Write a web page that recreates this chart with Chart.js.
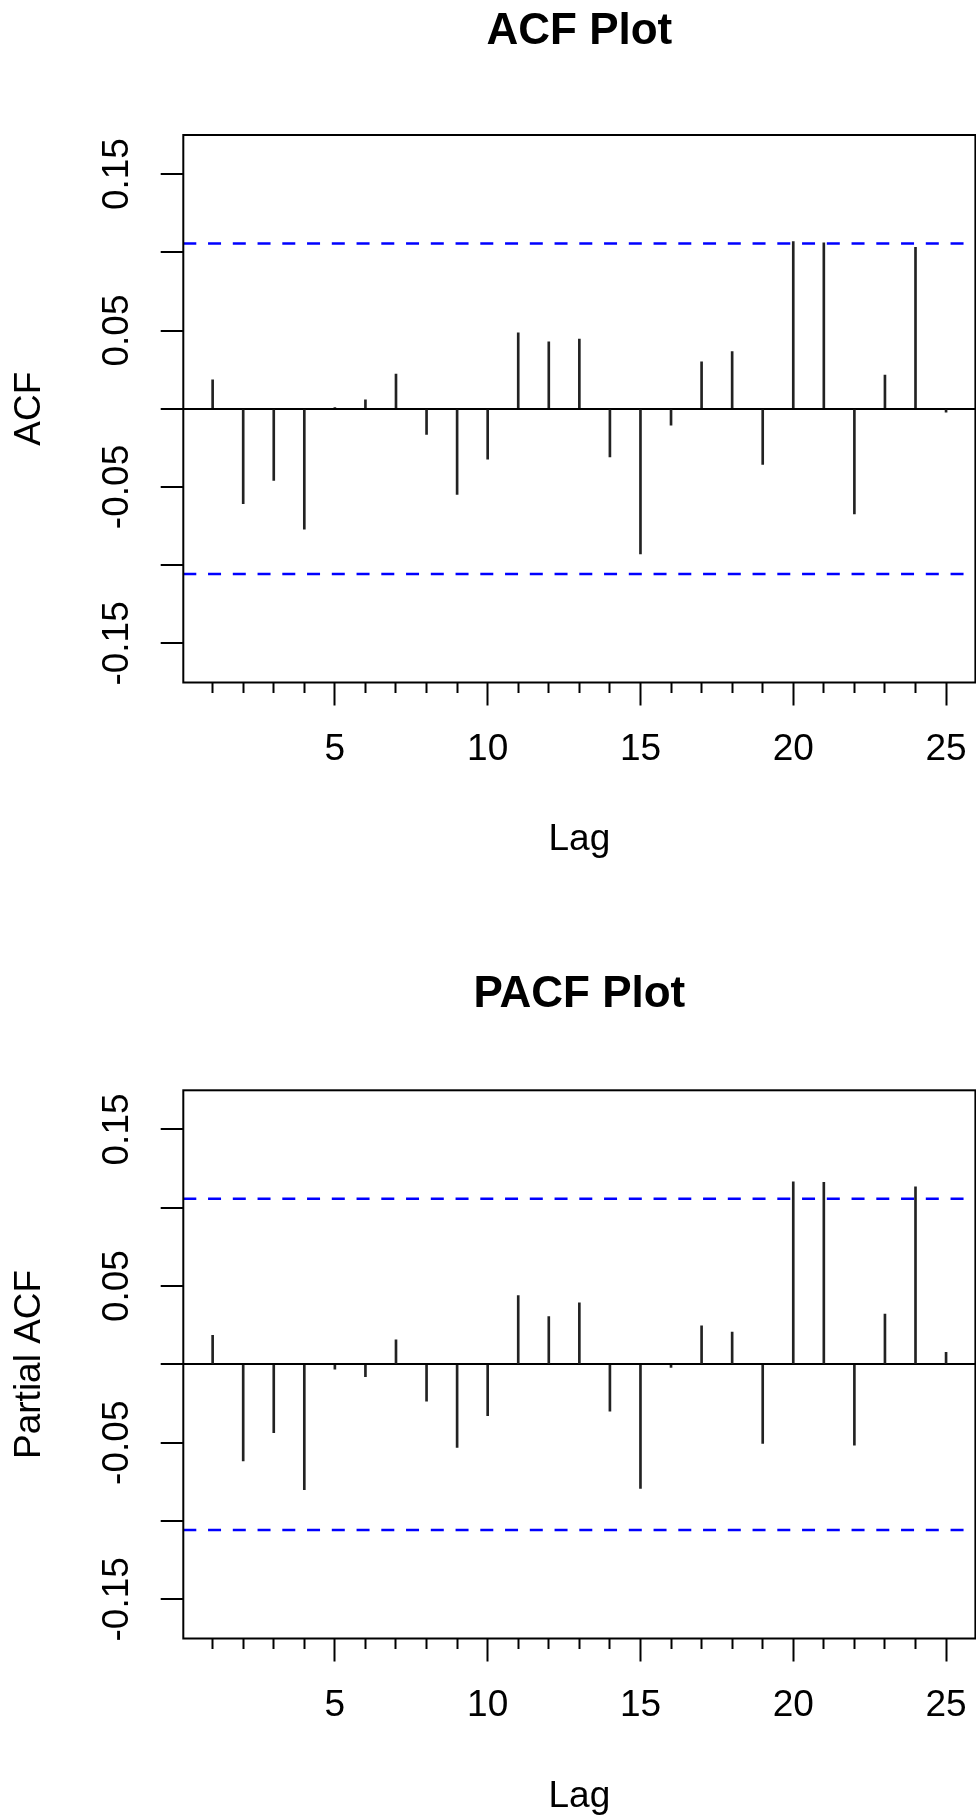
<!DOCTYPE html>
<html lang="en">
<head>
  <meta charset="UTF-8">
  <title>ACF / PACF Plot</title>
  <script src="https://cdn.jsdelivr.net/npm/chart.js@4/dist/chart.umd.min.js"></script>
  <style>
    html, body { margin: 0; padding: 0; background: #fff; }
    body   { width: 976px; height: 1818px; position: relative; overflow: hidden; }
    canvas { position: absolute; left: 0; }
    #acfChart  { top: 0; }
    #pacfChart { top: 909px; }
  </style>
</head>
<body>
  <canvas id="acfChart" width="976" height="909"></canvas>
  <canvas id="pacfChart" width="976" height="909"></canvas>

  <script>
    // ── Data ───────────────────────────────────────────────────────────────
    const lags = [1, 2, 3, 4, 5, 6, 7, 8, 9, 10, 11, 12, 13, 14, 15, 16, 17, 18, 19, 20, 21, 22, 23, 24, 25];
    const acfValues = [0.0185, -0.0606, -0.0458, -0.0770, 0.0008, 0.0057, 0.0222, -0.0164, -0.0547, -0.0323,
                       0.0486, 0.0428, 0.0445, -0.0308, -0.0928, -0.0105, 0.0300, 0.0365, -0.0356, 0.1068,
                       0.1060, -0.0672, 0.0216, 0.1032, -0.0022];
    const pacfValues = [0.0185, -0.0617, -0.0436, -0.0800, -0.0030, -0.0078, 0.0157, -0.0235, -0.0530, -0.0327,
                        0.0440, 0.0306, 0.0393, -0.0298, -0.0792, -0.0020, 0.0246, 0.0206, -0.0505, 0.1166,
                        0.1163, -0.0515, 0.0321, 0.1134, 0.0077];
    const ciBound = 0.1057;                 // blue dashed significance bounds (±)
    const lagRange = [0.04, 25.96];         // x limits
    const yRange = [-0.175, 0.175];         // y limits
    const labeledLags = [5, 10, 15, 20, 25];
    const yTickValues = [-0.15, -0.10, -0.05, 0, 0.05, 0.10, 0.15];
    const yTickLabels = ['-0.15', '', '-0.05', '', '0.05', '', '0.15'];

    // ── Styling ────────────────────────────────────────────────────────────
    Chart.defaults.font.family = "'Liberation Sans', Arial, Helvetica, sans-serif";
    Chart.defaults.color = '#000';

    // box around the plot region, R style
    const frame = {
      id: 'frame',
      afterDraw(chart) {
        const { ctx, chartArea: a } = chart;
        ctx.save();
        ctx.strokeStyle = '#000';
        ctx.lineWidth = 2;
        ctx.strokeRect(a.left, a.top, a.right - a.left, a.bottom - a.top);
        ctx.restore();
      },
    };

    function ciLine(sign) {
      return {
        type: 'line',
        data: lagRange.map((x) => ({ x, y: sign * ciBound })),
        borderColor: '#0000ff',
        borderWidth: 2.5,
        borderDash: [13, 11.75],
        pointRadius: 0,
        order: 1,
      };
    }

    function corrChart(id, title, yTitle, values, box) {
      return new Chart(document.getElementById(id), {
        type: 'bar',
        data: {
          datasets: [
            {
              type: 'bar',
              data: lags.map((l, i) => ({ x: l, y: values[i] })),
              backgroundColor: '#222',
              barThickness: 2,
              order: 2,
            },
            ciLine(1),
            ciLine(-1),
          ],
        },
        options: {
          responsive: false,
          animation: false,
          layout: { padding: { top: 0, left: 0, right: 0.6, bottom: box.bottomPad } },
          plugins: {
            legend: { display: false },
            tooltip: { enabled: false },
            title: {
              display: true, text: title, fullSize: false, color: '#000',
              font: { size: 44, weight: 'bold', lineHeight: 1.2 },
              padding: box.titlePad,
            },
          },
          scales: {
            x: {
              type: 'linear', min: lagRange[0], max: lagRange[1], offset: false,
              afterBuildTicks: (s) => { s.ticks = lags.map((v) => ({ value: v })); },
              afterFit: (s) => { s.height = box.xAxisHeight; s.paddingLeft = 0; s.paddingRight = 0; },
              border: { display: false },
              grid: {
                drawOnChartArea: false, offset: false,
                tickLength: 23, tickWidth: 2, tickColor: '#000',
                tickBorderDash: (c) => (c.tick && labeledLags.includes(c.tick.value) ? [] : [10, 40]),
              },
              ticks: {
                autoSkip: false, maxRotation: 0, padding: 25.6, color: '#000',
                font: { size: 37, lineHeight: 1 },
                callback: (v) => (labeledLags.includes(v) ? String(v) : ''),
              },
              title: { display: true, text: 'Lag', color: '#000', font: { size: 37, lineHeight: 1 }, padding: 0 },
            },
            y: {
              min: yRange[0], max: yRange[1],
              afterBuildTicks: (s) => { s.ticks = yTickValues.map((v) => ({ value: v })); },
              afterFit: (s) => { s.width = 183.3; s.paddingTop = 0; s.paddingBottom = 0; },
              border: { display: false },
              grid: {
                drawOnChartArea: true, lineWidth: 2,
                tickLength: 22.6, tickWidth: 2, tickColor: '#000',
                color: (c) => (c.tick && c.tick.value === 0 ? '#000' : 'rgba(0,0,0,0)'),
              },
              ticks: {
                minRotation: 90, maxRotation: 90, crossAlign: 'center', padding: 0.3, color: '#000',
                font: { size: 37, lineHeight: 1 },
                callback: (v, i) => yTickLabels[i],
              },
              title: {
                display: true, text: yTitle, color: '#000',
                font: { size: 37, lineHeight: 1 }, padding: { top: 11, bottom: 0 },
              },
            },
          },
        },
        plugins: [frame],
      });
    }

    corrChart('acfChart', 'ACF Plot', 'ACF', acfValues,
      { titlePad: { top: 5.6, bottom: 76.6 }, bottomPad: 50.5, xAxisHeight: 176 });
    corrChart('pacfChart', 'PACF Plot', 'Partial ACF', pacfValues,
      { titlePad: { top: 59, bottom: 69.5 }, bottomPad: 2.5, xAxisHeight: 177 });
  </script>
</body>
</html>
